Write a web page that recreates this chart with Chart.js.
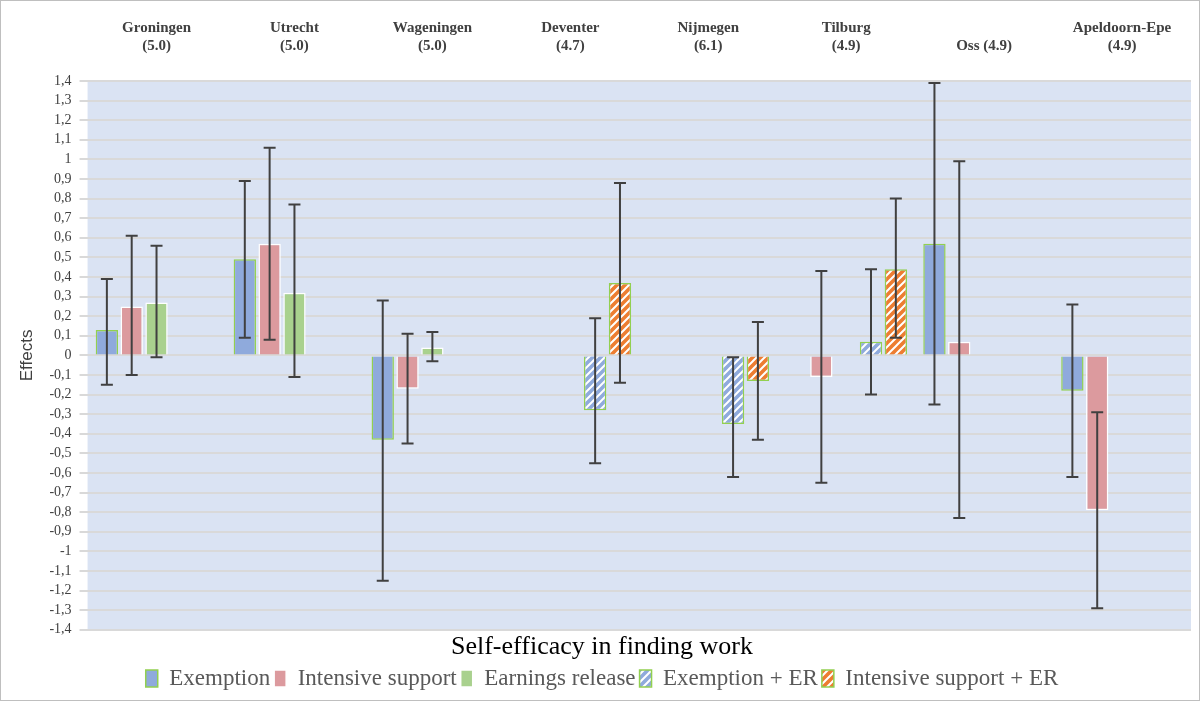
<!DOCTYPE html>
<html>
<head>
<meta charset="utf-8">
<script src="https://cdn.jsdelivr.net/npm/chart.js@4"></script>
<style>
  body { margin: 0; background: #fff; }
  #wrap { width: 1198px; height: 699px; border: 1px solid #bfbfbf; }
</style>
</head>
<body>
<div id="wrap"><canvas id="chart"></canvas></div>
<script>
const cities = [["Groningen", "(5.0)"], ["Utrecht", "(5.0)"], ["Wageningen", "(5.0)"], ["Deventer", "(4.7)"],
  ["Nijmegen", "(6.1)"], ["Tilburg", "(4.9)"], ["", "Oss (4.9)"], ["Apeldoorn-Epe", "(4.9)"]];
const seriesNames = ["Exemption", "Intensive support", "Earnings release", "Exemption + ER", "Intensive support + ER"];

const exemption    = [0.13, 0.49, -0.43, null, null, null, 0.57, -0.18];
const exemptionHi  = [0.39, 0.89, 0.28, null, null, null, 1.39, 0.26];
const exemptionLo  = [-0.15, 0.09, -1.15, null, null, null, -0.25, -0.62];

const intensive    = [0.25, 0.57, -0.17, null, null, -0.11, 0.07, -0.79];
const intensiveHi  = [0.61, 1.06, 0.11, null, null, 0.43, 0.99, -0.29];
const intensiveLo  = [-0.10, 0.08, -0.45, null, null, -0.65, -0.83, -1.29];

const earnings     = [0.27, 0.32, 0.04, null, null, null, null, null];
const earningsHi   = [0.56, 0.77, 0.12, null, null, null, null, null];
const earningsLo   = [-0.01, -0.11, -0.03, null, null, null, null, null];

const exemptER     = [null, null, null, -0.28, -0.35, 0.07, null, null];
const exemptERHi   = [null, null, null, 0.19, -0.01, 0.44, null, null];
const exemptERLo   = [null, null, null, -0.55, -0.62, -0.20, null, null];

const intensER     = [null, null, null, 0.37, -0.13, 0.44, null, null];
const intensERHi   = [null, null, null, 0.88, 0.17, 0.80, null, null];
const intensERLo   = [null, null, null, -0.14, -0.43, 0.09, null, null];

function hatch(color) {
  let c = document.createElement("canvas");
  c.width = 8; c.height = 8;
  let g = c.getContext("2d");
  g.fillStyle = color; g.fillRect(0, 0, 8, 8);
  g.strokeStyle = "#fff"; g.lineWidth = 2;
  g.beginPath();
  g.moveTo(-2, 10); g.lineTo(10, -2);
  g.moveTo(-2, 2); g.lineTo(2, -2);
  g.moveTo(6, 10); g.lineTo(10, 6);
  g.stroke();
  return document.getElementById("chart").getContext("2d").createPattern(c, "repeat");
}

const highs = [exemptionHi, intensiveHi, earningsHi, exemptERHi, intensERHi];
const lows = [exemptionLo, intensiveLo, earningsLo, exemptERLo, intensERLo];

const errorBars = {
  id: "errorBars",
  afterDatasetsDraw(chart) {
    let ctx = chart.ctx, y = chart.scales.y;
    ctx.save();
    ctx.strokeStyle = "#404040";
    ctx.lineWidth = 2;
    chart.data.datasets.forEach((ds, i) => {
      chart.getDatasetMeta(i).data.forEach((bar, j) => {
        if (highs[i][j] == null) return;
        let yh = y.getPixelForValue(highs[i][j]), yl = y.getPixelForValue(lows[i][j]);
        ctx.beginPath();
        ctx.moveTo(bar.x, yh); ctx.lineTo(bar.x, yl);
        ctx.moveTo(bar.x - 6, yh); ctx.lineTo(bar.x + 6, yh);
        ctx.moveTo(bar.x - 6, yl); ctx.lineTo(bar.x + 6, yl);
        ctx.stroke();
      });
    });
    ctx.restore();
  }
};

const plotBg = {
  id: "plotBg",
  beforeDraw(chart) {
    let a = chart.chartArea, ctx = chart.ctx;
    ctx.save();
    ctx.fillStyle = "#dae3f3";
    ctx.fillRect(a.left, a.top, a.right - a.left, a.bottom - a.top);
    ctx.restore();
  }
};

const serif = "'Liberation Serif', 'DejaVu Serif', serif";

new Chart(document.getElementById("chart"), {
  type: "bar",
  data: {
    labels: cities,
    datasets: [
      { label: seriesNames[0], data: exemption, backgroundColor: "#8faadc", borderColor: "#92d050", borderWidth: 1.5 },
      { label: seriesNames[1], data: intensive, backgroundColor: "#dc9a9e", borderColor: "#ffffff", borderWidth: 1.5 },
      { label: seriesNames[2], data: earnings, backgroundColor: "#a9d18e", borderColor: "#ffffff", borderWidth: 1.5 },
      { label: seriesNames[3], data: exemptER, backgroundColor: hatch("#8faadc"), borderColor: "#92d050", borderWidth: 1.5 },
      { label: seriesNames[4], data: intensER, backgroundColor: hatch("#ed7d31"), borderColor: "#92d050", borderWidth: 1.5 }
    ]
  },
  options: {
    responsive: true,
    maintainAspectRatio: false,
    animation: false,
    categoryPercentage: 0.9,
    barPercentage: 0.9,
    layout: { padding: { left: 12, right: 8, top: 0, bottom: 0 } },
    plugins: {
      legend: {
        position: "bottom",
        labels: { font: { family: serif, size: 23 }, color: "#595959", boxWidth: 12, boxHeight: 17, padding: 4 }
      },
      title: {
        display: true, position: "bottom", weight: 500, text: "Self-efficacy in finding work",
        font: { family: serif, size: 26, weight: "normal" }, color: "#000", padding: { top: 2, bottom: 0 }
      },
      tooltip: { enabled: false }
    },
    scales: {
      x: {
        position: "top",
        grid: { display: false },
        border: { display: false },
        ticks: { font: { family: serif, size: 15, weight: "bold" }, color: "#404040", padding: 18 }
      },
      y: {
        min: -1.4, max: 1.4,
        grid: { color: "#d9d9d9", lineWidth: 2 },
        border: { display: false },
        title: { display: true, text: "Effects", font: { family: "'Liberation Sans', sans-serif", size: 17 }, color: "#404040", padding: 4 },
        ticks: {
          stepSize: 0.1, autoSkip: false, padding: 8,
          font: { family: serif, size: 14 }, color: "#404040",
          callback: v => String(Math.round(v * 10) / 10).replace(".", ",")
        }
      }
    }
  },
  plugins: [plotBg, errorBars]
});
</script>
</body>
</html>
